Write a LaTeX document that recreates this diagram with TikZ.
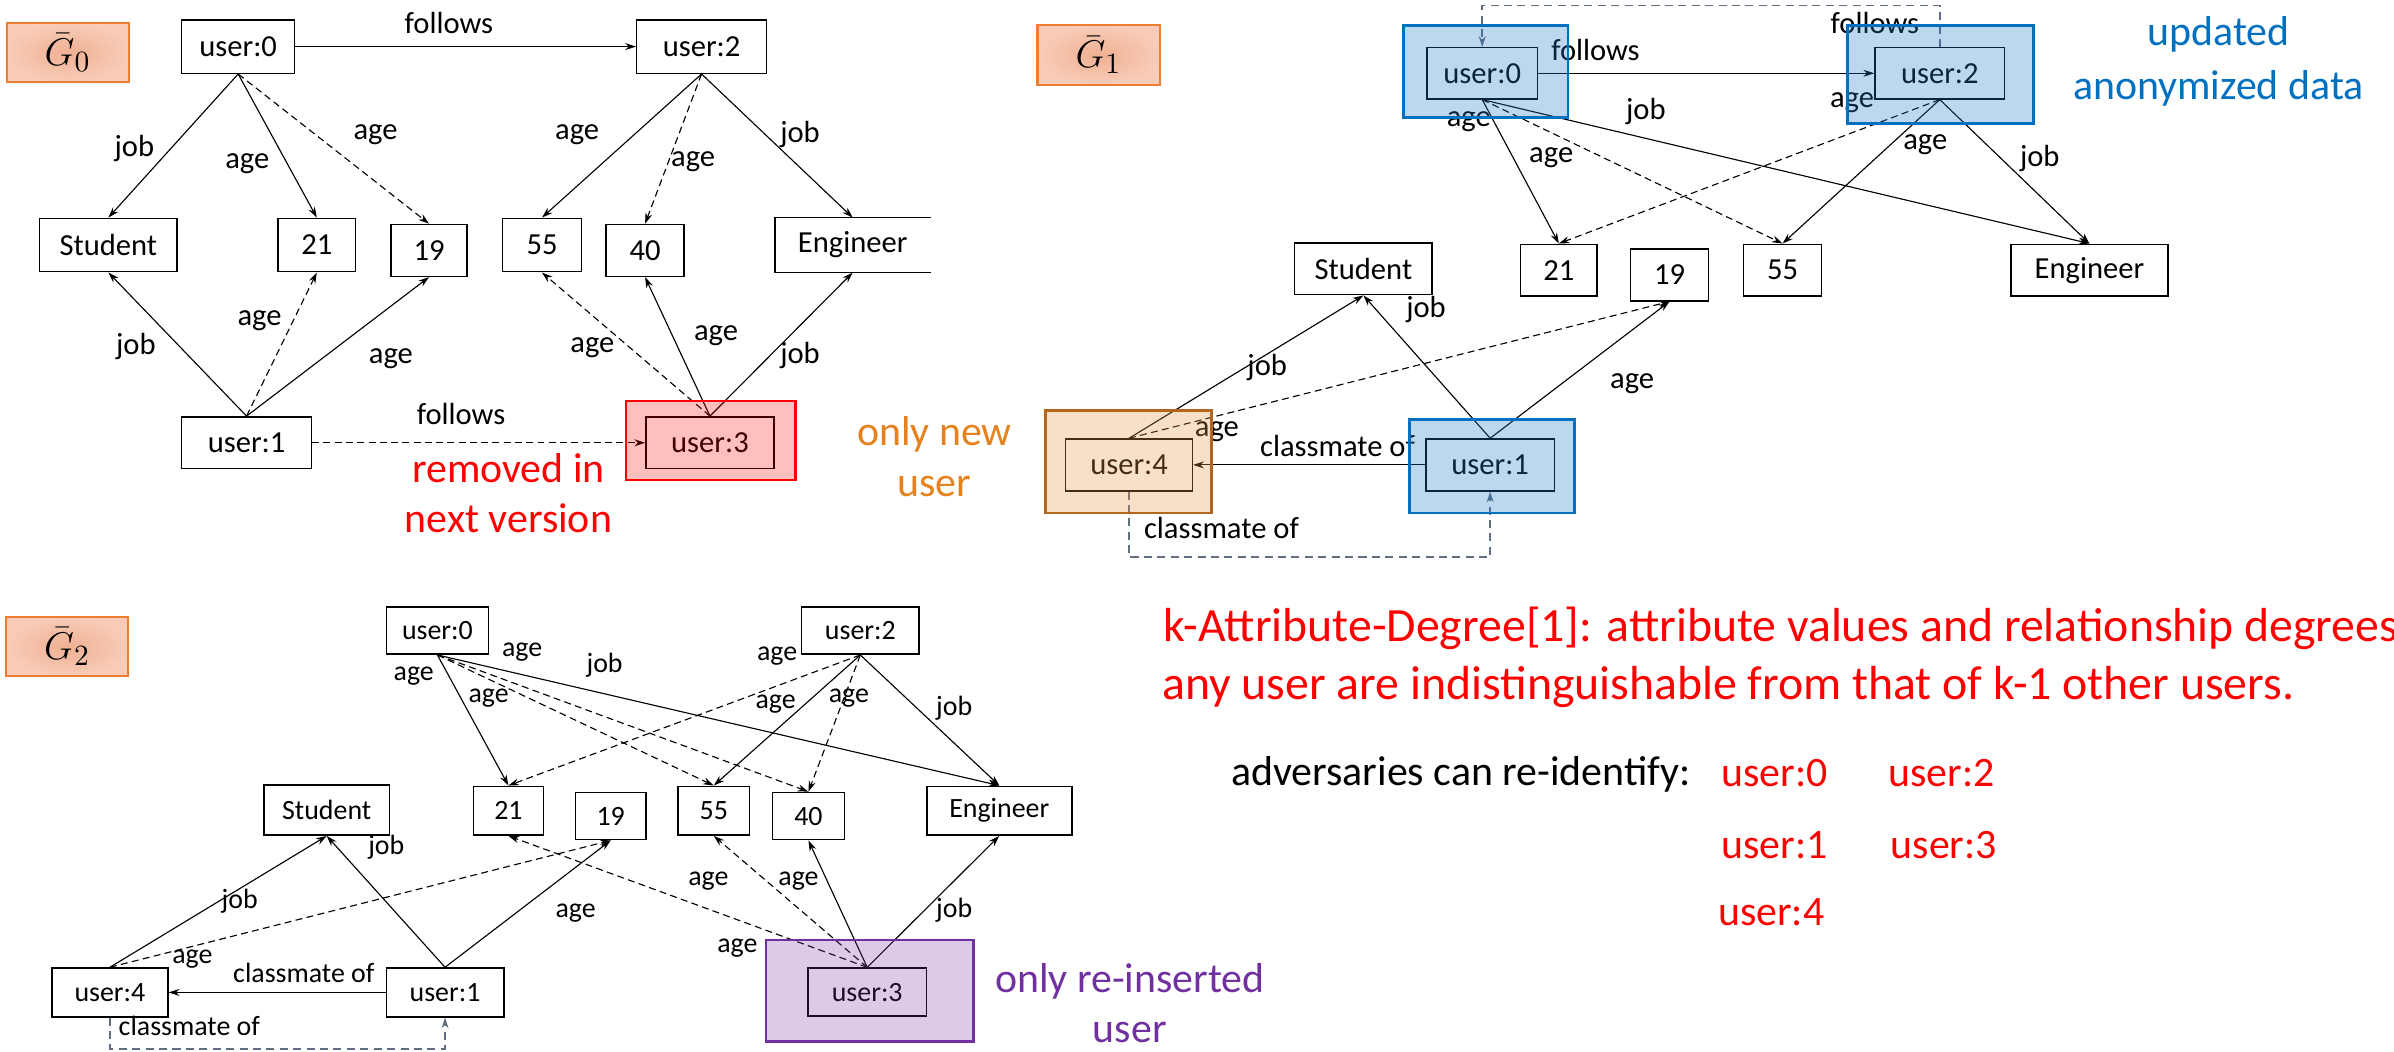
\documentclass[tikz,border=0pt]{standalone}
\usepackage{fontspec}
\setmainfont{Carlito}
\usetikzlibrary{arrows.meta}

\definecolor{lblborder}{RGB}{237,125,49}
\definecolor{lblin}{RGB}{240,176,146}
\definecolor{lblout}{RGB}{248,204,184}
\definecolor{ublue}{RGB}{0,112,192}
\definecolor{ublueov}{RGB}{35,122,198}
\definecolor{ubrown}{RGB}{181,101,29}
\definecolor{uorangeov}{RGB}{232,152,72}
\definecolor{upurple}{RGB}{112,48,160}
\definecolor{gline}{RGB}{96,110,130}
\definecolor{txtorange}{RGB}{230,130,30}

\tikzset{
  nbox/.style={draw, line width=0.55pt, inner sep=0pt, font=\fontsize{11.4}{13}\selectfont},
  sbox/.style={draw, line width=0.55pt, inner sep=0pt, font=\fontsize{10.4}{12}\selectfont},
  lab/.style={inner sep=0pt, font=\fontsize{11.4}{13}\selectfont},
  slab/.style={inner sep=0pt, font=\fontsize{10.4}{12}\selectfont},
  gname/.style={draw=lblborder, line width=0.8pt, inner color=lblin, outer color=lblout,
    minimum width=1.6cm, minimum height=0.78cm, inner sep=0pt, font=\fontsize{15.5}{17}\selectfont},
  arr/.style={line width=0.42pt, -{Stealth[length=4pt,width=2.6pt]}},
  darr/.style={arr, dash pattern=on 2.6pt off 1.6pt},
  garr/.style={draw=gline, line width=0.6pt, dash pattern=on 3pt off 2pt, -{Stealth[length=4pt,width=2.6pt]}},
  big/.style={inner sep=0pt, font=\fontsize{15.6}{18.8}\selectfont, align=center},
  ovred/.style={draw=red, line width=0.95pt, fill=red, fill opacity=0.25},
  ovblue/.style={draw=ublue, line width=1.1pt, fill=ublueov, fill opacity=0.3},
  ovbrown/.style={draw=ubrown, line width=1.1pt, fill=uorangeov, fill opacity=0.3},
  ovpurple/.style={draw=upurple, line width=0.95pt, fill=upurple, fill opacity=0.25},
}

\begin{document}
\begin{tikzpicture}[x=0.02cm,y=-0.02cm]
\useasboundingbox (0,0) rectangle (1568,689);

% ---------------- version 0 ----------------
\node[gname] (g0) at (44.3,34.4) {$\bar{G}_0$};
\node[nbox, minimum width=1.48cm, minimum height=0.70cm] (a0) at (156,30.5) {user:0};
\node[nbox, minimum width=1.70cm, minimum height=0.70cm] (a2) at (459.5,30.5) {user:2};
\node[nbox, minimum width=1.80cm, minimum height=0.70cm] (aS) at (71,160.5) {Student};
\node[nbox, minimum width=1.02cm, minimum height=0.70cm] (a21) at (207.5,160.5) {21};
\node[nbox, minimum width=1.00cm, minimum height=0.68cm] (a19) at (281,164) {19};
\node[nbox, minimum width=1.04cm, minimum height=0.70cm] (a55) at (355,160.5) {55};
\node[nbox, minimum width=1.02cm, minimum height=0.68cm] (a40) at (422.5,164) {40};
\node[nbox, draw=none, minimum width=2.02cm, minimum height=0.70cm] (aE) at (558.5,160.5) {Engineer};
\draw[line width=0.55pt] (aE.north east) -- (aE.north west) -- (aE.south west) -- (aE.south east);
\node[nbox, minimum width=1.70cm, minimum height=0.68cm] (a1) at (161.5,290) {user:1};
\node[nbox, minimum width=1.68cm, minimum height=0.68cm] (a3) at (465,290) {user:3};

\draw[arr] (a0.east) -- (a2.west);
\draw[arr] (a0.south) -- (aS.north);
\draw[arr] (a0.south) -- (a21.north);
\draw[darr] (a0.south) -- (a19.north);
\draw[arr] (a2.south) -- (a55.north);
\draw[darr] (a2.south) -- (a40.north);
\draw[arr] (a2.south) -- (aE.north);
\draw[arr] (a1.north) -- (aS.south);
\draw[darr] (a1.north) -- (a21.south);
\draw[arr] (a1.north) -- (a19.south);
\draw[darr] (a3.north) -- (a55.south);
\draw[arr] (a3.north) -- (a40.south);
\draw[arr] (a3.north) -- (aE.south);
\draw[darr] (a1.east) -- (a3.west);

\node[lab] (la1) at (294,15) {follows};
\node[lab] (la2) at (88,97) {job};
\node[lab] (la3) at (162,107) {age};
\node[lab] (la4) at (246,88) {age};
\node[lab] (la5) at (378,88) {age};
\node[lab] (la6) at (454,106) {age};
\node[lab] (la7) at (524,88) {job};
\node[lab] (la8) at (89,227) {job};
\node[lab] (la9) at (170,210) {age};
\node[lab] (la10) at (256,235) {age};
\node[lab] (la11) at (388,228) {age};
\node[lab] (la12) at (469,220) {age};
\node[lab] (la13) at (524,233) {job};
\node[lab] (la14) at (302,271) {follows};

\node[ovred, minimum width=2.22cm, minimum height=1.03cm] (a3o) at (465.5,288.5) {};
\node[big, text=red] (rm) at (333,323) {removed in\\next version};

% ---------------- version 1 ----------------
\node[gname] (g1) at (719.5,36) {$\bar{G}_1$};
\node[nbox, minimum width=1.45cm, minimum height=0.67cm] (b0) at (970.8,48) {user:0};
\node[nbox, minimum width=1.70cm, minimum height=0.67cm] (b2) at (1270.5,48) {user:2};
\node[nbox, minimum width=1.80cm, minimum height=0.68cm] (bS) at (893,176) {Student};
\node[nbox, minimum width=1.00cm, minimum height=0.68cm] (b21) at (1021,177) {21};
\node[nbox, minimum width=1.02cm, minimum height=0.68cm] (b19) at (1093.5,180) {19};
\node[nbox, minimum width=1.02cm, minimum height=0.68cm] (b55) at (1167.5,177) {55};
\node[nbox, minimum width=2.06cm, minimum height=0.68cm] (bE) at (1368.5,177) {Engineer};
\node[nbox, minimum width=1.66cm, minimum height=0.68cm] (b4) at (739.5,304.5) {user:4};
\node[nbox, minimum width=1.68cm, minimum height=0.68cm] (b1) at (976,304.5) {user:1};

\coordinate (top1) at (0,3.5);
\coordinate (bot1) at (0,365);
\draw[arr] (b0.east) -- (b2.west);
\draw[garr] (b2.north) -- (b2.north |- top1) -| (b0.north);
\draw[arr] (b0.south) -- (b21.north);
\draw[darr] (b0.south) -- (b55.north);
\draw[arr] (b0.south) -- (bE.north);
\draw[darr] (b2.south) -- (b21.north);
\draw[arr] (b2.south) -- (b55.north);
\draw[arr] (b2.south) -- (bE.north);
\draw[arr] (b4.north) -- (bS.south);
\draw[darr] (b4.north) -- (b19.south);
\draw[arr] (b1.north) -- (bS.south);
\draw[arr] (b1.north) -- (b19.south);
\draw[arr] (b1.west) -- (b4.east);
\draw[garr] (b4.south) -- (b4.south |- bot1) -| (b1.south);

\node[lab] (lb1) at (1045,33) {follows};
\node[lab] (lb2) at (1228,15) {follows};
\node[lab] (lb3) at (962,80) {age};
\node[lab] (lb4) at (1016,103) {age};
\node[lab] (lb5) at (1078,73) {job};
\node[lab] (lb6) at (1213,67) {age};
\node[lab] (lb7) at (1261,95) {age};
\node[lab] (lb8) at (1336,104) {job};
\node[lab] (lb9) at (830,241) {job};
\node[lab] (lb10) at (797,283) {age};
\node[lab] (lb11) at (934,203) {job};
\node[lab] (lb12) at (1069,251) {age};
\node[lab] (lb13) at (876,292) {classmate of};
\node[lab] (lb14) at (800,346) {classmate of};

\node[ovblue, minimum width=2.16cm, minimum height=1.20cm] (b0o) at (973,47) {};
\node[ovblue, minimum width=2.44cm, minimum height=1.28cm] (b2o) at (1271,49) {};
\node[ovbrown, minimum width=2.17cm, minimum height=1.34cm] (b4o) at (739,302.5) {};
\node[ovblue, minimum width=2.16cm, minimum height=1.22cm] (b1o) at (977,305.5) {};

\node[big, text=ublue, font=\fontsize{15.6}{20}\selectfont] (upd) at (1453,40) {updated\\anonymized data};
\node[big, text=txtorange] (onew) at (612,299) {only new\\user};

% ---------------- version 2 ----------------
\node[gname] (g2) at (44,423.5) {$\bar{G}_2$};
\node[sbox, minimum width=1.34cm, minimum height=0.62cm] (c0) at (286.5,413) {user:0};
\node[sbox, minimum width=1.54cm, minimum height=0.62cm] (c2) at (563.5,413) {user:2};
\node[sbox, minimum width=1.64cm, minimum height=0.66cm] (cS) at (214,530.5) {Student};
\node[sbox, minimum width=0.92cm, minimum height=0.64cm] (c21) at (333,531) {21};
\node[sbox, minimum width=0.92cm, minimum height=0.62cm] (c19) at (400,534.5) {19};
\node[sbox, minimum width=0.94cm, minimum height=0.64cm] (c55) at (467.5,531) {55};
\node[sbox, minimum width=0.94cm, minimum height=0.62cm] (c40) at (529.5,534.5) {40};
\node[sbox, minimum width=1.90cm, minimum height=0.64cm] (cE) at (654.5,531) {Engineer};
\node[sbox, minimum width=1.52cm, minimum height=0.64cm] (c4) at (72,650) {user:4};
\node[sbox, minimum width=1.54cm, minimum height=0.64cm] (c1) at (291.5,650) {user:1};
\node[sbox, minimum width=1.55cm, minimum height=0.63cm] (c3) at (568,649.8) {user:3};

\coordinate (bot2) at (0,687);
\draw[arr] (c0.south) -- (c21.north);
\draw[darr] (c0.south) -- (c55.north);
\draw[darr] (c0.south) -- (c40.north);
\draw[arr] (c0.south) -- (cE.north);
\draw[darr] (c2.south) -- (c21.north);
\draw[arr] (c2.south) -- (c55.north);
\draw[darr] (c2.south) -- (c40.north);
\draw[arr] (c2.south) -- (cE.north);
\draw[arr] (c1.north) -- (cS.south);
\draw[arr] (c1.north) -- (c19.south);
\draw[arr] (c4.north) -- (cS.south);
\draw[darr] (c4.north) -- (c19.south);
\draw[darr] (c3.north) -- (c21.south);
\draw[darr] (c3.north) -- (c55.south);
\draw[arr] (c3.north) -- (c40.south);
\draw[arr] (c3.north) -- (cE.south);
\draw[arr] (c1.west) -- (c4.east);
\draw[garr] (c4.south) -- (c4.south |- bot2) -| (c1.south);

\node[slab] (lc1) at (271,443) {age};
\node[slab] (lc2) at (320,457) {age};
\node[slab] (lc3) at (342,427) {age};
\node[slab] (lc4) at (396,436) {job};
\node[slab] (lc5) at (509,430) {age};
\node[slab] (lc6) at (508,461) {age};
\node[slab] (lc7) at (556,457) {age};
\node[slab] (lc8) at (625,464) {job};
\node[slab] (lc9) at (253,555) {job};
\node[slab] (lc10) at (377,598) {age};
\node[slab] (lc11) at (157,590) {job};
\node[slab] (lc12) at (126,628) {age};
\node[slab] (lc13) at (483,621) {age};
\node[slab] (lc14) at (464,577) {age};
\node[slab] (lc15) at (523,577) {age};
\node[slab] (lc16) at (625,596) {job};
\node[slab] (lc17) at (199,637) {classmate of};
\node[slab] (lc18) at (124,672) {classmate of};

\node[ovpurple, minimum width=2.72cm, minimum height=1.33cm] (c3o) at (569.6,649) {};
\node[big, text=upurple] (reins) at (740,657) {only re-inserted\\user};

% ---------------- definition and result ----------------
\node[inner sep=0pt, anchor=base west, text=red, font=\fontsize{17.8}{21}\selectfont] (def1) at (762,420)
  {k-Attribute-Degree[1]: attribute values and relationship degrees};
\node[inner sep=0pt, anchor=base west, text=red, font=\fontsize{17.8}{21}\selectfont] (def2) at (761,458)
  {any user are indistinguishable from that of k-1 other users.};
\node[inner sep=0pt, anchor=base west, font=\fontsize{15.6}{18}\selectfont] (adv) at (806,514.5)
  {adversaries can re-identify:};
\tikzset{reid/.style={inner sep=0pt, anchor=base west, text=red, font=\fontsize{15.6}{18}\selectfont}}
\node[reid] (r0) at (1127,515) {user:0};
\node[reid] (r2) at (1236.6,515) {user:2};
\node[reid] (r1) at (1127,562) {user:1};
\node[reid] (r3) at (1238,562) {user:3};
\node[reid] (r4) at (1125,606) {user:4};
\end{tikzpicture}
\end{document}
